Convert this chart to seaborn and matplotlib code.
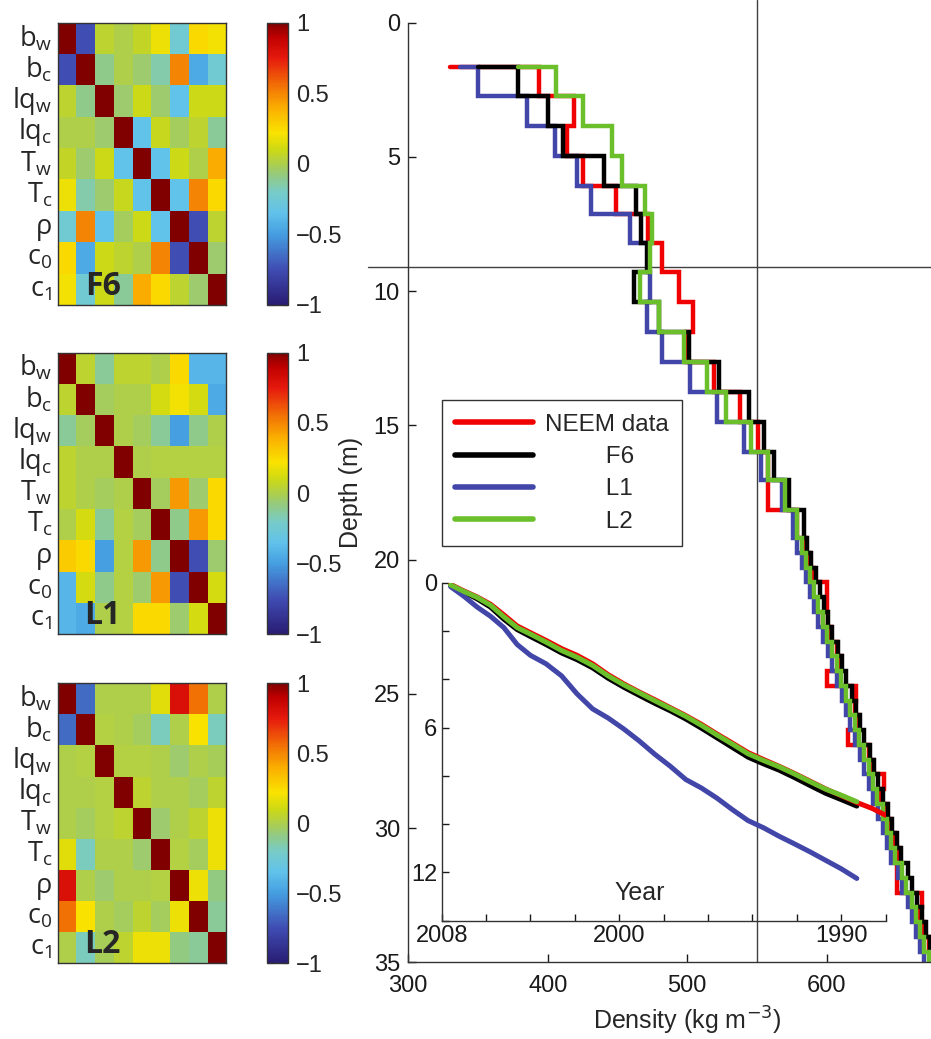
import numpy as np
import seaborn as sns
import matplotlib.pyplot as plt
from matplotlib.colors import LinearSegmentedColormap

sns.set_theme(style="white")
plt.rcParams["font.family"] = ["Liberation Sans", "DejaVu Sans"]
plt.rcParams["axes.edgecolor"] = "0.2"
plt.rcParams["axes.linewidth"] = 1.0

# ---------------- correlation matrices (left column) ----------------
params = [r"$\mathregular{b_w}$", r"$\mathregular{b_c}$", r"$\mathregular{lq_w}$",
          r"$\mathregular{lq_c}$", r"$\mathregular{T_w}$", r"$\mathregular{T_c}$",
          "ρ", r"$\mathregular{c_0}$", r"$\mathregular{c_1}$"]

corr_f6 = [
    [1.00, -0.75, 0.05, 0.00, 0.07, 0.18, -0.25, 0.25, 0.20],
    [-0.75, 1.00, -0.10, 0.00, -0.05, -0.15, 0.50, -0.45, -0.25],
    [0.05, -0.10, 1.00, -0.05, 0.10, -0.05, -0.35, 0.10, 0.10],
    [0.00, 0.00, -0.05, 1.00, -0.35, 0.08, -0.03, 0.05, -0.12],
    [0.07, -0.05, 0.10, -0.35, 1.00, -0.35, 0.10, 0.00, 0.40],
    [0.18, -0.15, -0.05, 0.08, -0.35, 1.00, -0.35, 0.50, 0.25],
    [-0.25, 0.50, -0.35, -0.03, 0.10, -0.35, 1.00, -0.75, 0.05],
    [0.25, -0.45, 0.10, 0.05, 0.00, 0.50, -0.75, 1.00, -0.05],
    [0.20, -0.25, 0.10, -0.12, 0.40, 0.25, 0.05, -0.05, 1.00],
]
corr_l1 = [
    [1.00, 0.05, -0.12, 0.05, 0.05, 0.00, 0.25, -0.40, -0.40],
    [0.05, 1.00, -0.03, 0.00, 0.00, 0.12, 0.20, 0.12, -0.45],
    [-0.12, -0.03, 1.00, 0.00, -0.03, -0.12, -0.50, -0.10, 0.00],
    [0.05, 0.00, 0.00, 1.00, 0.00, 0.02, 0.02, 0.02, 0.02],
    [0.05, 0.00, -0.03, 0.00, 1.00, -0.03, 0.45, -0.05, 0.25],
    [0.00, 0.12, -0.12, 0.02, -0.03, 1.00, -0.10, 0.45, 0.25],
    [0.30, 0.25, -0.50, 0.02, 0.45, -0.10, 1.00, -0.75, -0.05],
    [-0.40, 0.12, -0.10, 0.02, -0.05, 0.45, -0.75, 1.00, 0.12],
    [-0.40, -0.45, 0.00, 0.02, 0.25, 0.25, -0.05, 0.12, 1.00],
]
corr_l2 = [
    [1.00, -0.65, 0.00, 0.00, 0.00, 0.15, 0.80, 0.55, 0.00],
    [-0.65, 1.00, 0.02, 0.00, -0.03, -0.18, 0.00, 0.22, -0.18],
    [0.00, 0.02, 1.00, 0.02, 0.02, 0.00, -0.05, 0.00, -0.02],
    [0.00, 0.00, 0.02, 1.00, 0.05, 0.00, 0.00, -0.03, 0.05],
    [0.00, -0.03, 0.02, 0.05, 1.00, -0.05, 0.00, 0.05, 0.18],
    [0.15, -0.18, 0.00, 0.00, -0.05, 1.00, 0.02, -0.03, 0.18],
    [0.80, 0.00, -0.05, 0.00, 0.00, 0.02, 1.00, 0.18, -0.08],
    [0.55, 0.22, 0.00, -0.03, 0.05, -0.03, 0.18, 1.00, -0.12],
    [0.00, -0.18, -0.02, 0.05, 0.18, 0.18, -0.08, -0.12, 1.00],
]
panel_names = ["F6", "L1", "L2"]

# ---------------- density profiles (main panel) ----------------
layer_edges = [1.64, 2.73, 3.85, 4.96, 6.07, 7.13, 8.22, 9.27, 10.42, 11.51,
               12.63, 13.74, 14.86, 15.98, 17.03, 18.15, 19.20,
               19.75, 20.30, 20.85, 21.40, 21.95, 22.50, 23.05, 23.60, 24.15,
               24.70, 25.25, 25.80, 26.35, 26.90, 27.45, 28.00, 28.55, 29.10,
               29.65, 30.20, 30.75, 31.30, 31.85, 32.40, 32.95, 33.50, 34.05,
               34.60, 35.15, 35.70]

dens_neem = [394, 419, 414, 425, 449, 472, 482, 494, 504, 499, 519, 538, 551, 558, 558, 579,
             585, 588, 591, 600, 600, 597, 603, 607, 610, 600, 621, 620, 623, 615, 630,
             633, 641, 639, 643, 646, 649, 652, 650, 650, 668, 667, 670, 673, 676, 679]
dens_f6 = [379, 400, 411, 440, 463, 467, 471, 462, 480, 501, 523, 544, 555, 562, 573, 584,
           586, 589, 592, 595, 598, 601, 604, 608, 611, 614, 618, 621, 624, 627, 631,
           634, 637, 640, 644, 647, 650, 653, 658, 661, 665, 668, 671, 674, 677, 680]
dens_l1 = [350, 385, 405, 421, 431, 459, 472, 473, 471, 482, 502, 521, 541, 553, 568, 576,
           579, 582, 585, 588, 591, 594, 597, 601, 604, 607, 611, 614, 617, 620, 624,
           627, 630, 633, 637, 640, 643, 646, 651, 654, 658, 661, 664, 667, 670, 673]
dens_l2 = [406, 425, 446, 453, 470, 475, 473, 466, 480, 498, 514, 528, 546, 558, 570, 579,
           582, 585, 588, 591, 594, 597, 600, 604, 607, 610, 614, 617, 620, 623, 627,
           630, 633, 636, 640, 643, 646, 649, 654, 657, 661, 664, 667, 670, 673, 676]
dens_start = {"NEEM data": 330, "F6": 350, "L1": 337, "L2": 379}

# ---------------- inset: depth vs year ----------------
years = [2007.6, 2007.0, 2006.4, 2005.8, 2005.2, 2004.6, 2004.0, 2003.3, 2002.6, 2001.9,
         2001.2, 2000.5, 1999.8, 1999.1, 1998.4, 1997.7, 1997.0, 1996.3, 1995.6, 1994.9,
         1994.2, 1993.5, 1992.8, 1992.1, 1991.4, 1990.7, 1990.0, 1989.3]
years_neem = years + [1988.6, 1988.0]
yd_neem = [0.06, 0.33, 0.58, 0.88, 1.32, 1.78, 2.06, 2.38, 2.72, 3.00, 3.35, 3.80, 4.18, 4.52,
           4.84, 5.17, 5.50, 5.86, 6.26, 6.64, 7.03, 7.32, 7.60, 7.90, 8.22, 8.54, 8.82, 9.10,
           9.35, 9.63]
yd_f6 = [0.08, 0.37, 0.66, 1.00, 1.50, 1.93, 2.22, 2.55, 2.90, 3.18, 3.52, 3.95, 4.32, 4.66,
         4.99, 5.30, 5.64, 6.02, 6.42, 6.82, 7.22, 7.50, 7.76, 8.07, 8.40, 8.72, 8.98, 9.25]
yd_l1 = [0.15, 0.55, 1.00, 1.38, 1.85, 2.55, 3.00, 3.35, 3.85, 4.60, 5.22, 5.60, 6.05, 6.55,
         7.10, 7.60, 8.15, 8.50, 8.92, 9.40, 9.85, 10.15, 10.50, 10.82, 11.15, 11.50, 11.85, 12.25]
yd_l2 = [0.08, 0.35, 0.60, 0.92, 1.40, 1.85, 2.12, 2.45, 2.80, 3.08, 3.42, 3.85, 4.22, 4.55,
         4.88, 5.20, 5.53, 5.90, 6.30, 6.68, 7.08, 7.36, 7.62, 7.92, 8.24, 8.55, 8.80, 9.07]

colors = {"NEEM data": "#f00000", "F6": "#000000", "L1": "#4146a8", "L2": "#6abf2a"}

# colormap like the MATLAB one in the figure
anchors = [(-1.0, (0.16, 0.11, 0.45)), (-0.75, (0.25, 0.30, 0.70)), (-0.5, (0.27, 0.62, 0.88)),
           (-0.35, (0.38, 0.76, 0.92)), (-0.2, (0.47, 0.80, 0.78)), (-0.08, (0.58, 0.79, 0.50)),
           (0.0, (0.68, 0.81, 0.30)), (0.1, (0.80, 0.85, 0.08)), (0.22, (0.98, 0.89, 0.0)),
           (0.4, (0.98, 0.68, 0.0)), (0.55, (0.95, 0.45, 0.02)), (0.75, (0.90, 0.10, 0.05)),
           (0.9, (0.75, 0.0, 0.0)), (1.0, (0.50, 0.0, 0.0))]
cmap = LinearSegmentedColormap.from_list("corr", [((v + 1) / 2, c) for v, c in anchors])


def stair_xy(start, dens, edges):
    xs, ys = [start], [edges[0]]
    for i, d in enumerate(dens):
        xs += [d, d]
        ys += [edges[i], edges[i + 1]]
    return xs, ys


fig = plt.figure(figsize=(9.31, 10.39), dpi=100)

# ---- heatmaps ----
hm_boxes = [(0.062, 0.7065, 0.181, 0.2717), (0.062, 0.3895, 0.181, 0.2712),
            (0.062, 0.0728, 0.181, 0.2697)]
for mat, name, (l, b, w, h) in zip([corr_f6, corr_l1, corr_l2], panel_names, hm_boxes):
    hax = fig.add_axes([l, b, w, h])
    cax = fig.add_axes([0.2865, b, 0.0226, h])
    sns.heatmap(np.array(mat), ax=hax, cbar_ax=cax, cmap=cmap, vmin=-1, vmax=1,
                xticklabels=False, yticklabels=params)
    hax.set_xticks(np.arange(9) + 0.5)
    hax.set_xticklabels([])
    hax.tick_params(axis="y", labelsize=19.5, rotation=0, left=True, right=True,
                    direction="in", length=3, pad=4)
    hax.tick_params(axis="x", bottom=True, direction="in", length=3)
    for lab in hax.get_yticklabels():
        lab.set_family(["Open Sans", "DejaVu Sans"])
    for sp in hax.spines.values():
        sp.set_visible(True)
        sp.set_color("0.2")
        sp.set_linewidth(1.0)
    hax.text(2.4, 8.4, name, fontsize=23, fontweight="bold", ha="center", va="center",
             family=["Open Sans", "DejaVu Sans"])
    cb = hax.collections[0].colorbar
    cb.outline.set_linewidth(1.0)
    cb.outline.set_edgecolor("0.2")
    cb.set_ticks([-1, -0.5, 0, 0.5, 1])
    cb.set_ticklabels(["\u22121", "\u22120.5", "0", "0.5", "1"])
    cax.tick_params(labelsize=17, direction="in", length=4, width=0.8, left=True,
                    right=True, pad=6, colors="0.15")

# ---- main density panel ----
ax = fig.add_axes([0.4385, 0.0738, 0.5994, 0.9043])
series = [("NEEM data", dens_neem), ("L1", dens_l1), ("F6", dens_f6), ("L2", dens_l2)]
handles = {}
for name, dens in series:
    xs, ys = stair_xy(dens_start[name], dens, layer_edges)
    sns.lineplot(x=xs, y=ys, ax=ax, sort=False, estimator=None, color=colors[name],
                 linewidth=3.2, label=name)
    handles[name] = ax.lines[-1]
    ax.lines[-1].set_solid_joinstyle("miter")

ax.set_xlim(300, 700)
ax.set_ylim(35, 0)
ax.set_xticks([300, 400, 500, 600])
ax.set_yticks(range(0, 36, 5))
ax.spines["top"].set_visible(False)
ax.tick_params(axis="both", direction="in", length=6, width=1, labelsize=17,
               left=True, bottom=True, colors="0.1")
ax.tick_params(axis="x", pad=9)
ax.tick_params(axis="y", pad=6)
ax.set_xlabel("Density (kg m$^{-3}$)", fontsize=18, labelpad=6)
ax.set_ylabel("Depth (m)", fontsize=18, labelpad=8,
              family=["Liberation Sans Narrow", "Liberation Sans"])

# reference cross lines
ax.axvline(550, ymin=0, ymax=1.024, color="0.25", lw=1.0, clip_on=False, zorder=1)
ax.axhline(9.1, xmin=-0.072, xmax=1.0, color="0.25", lw=1.0, clip_on=False, zorder=1)

order = ["NEEM data", "F6", "L1", "L2"]
labels = ["NEEM data", "         F6", "         L1", "         L2"]
leg = ax.legend([handles[k] for k in order], labels, loc="upper left",
                bbox_to_anchor=(0.060, 0.598), frameon=True, fancybox=False,
                edgecolor="0.2", framealpha=1, fontsize=17.5, handlelength=3.2,
                labelspacing=0.42, borderpad=0.55, handletextpad=0.5, borderaxespad=0)
leg.get_frame().set_linewidth(1.0)
for ln in leg.get_lines():
    ln.set_linewidth(4)

# ---- inset: depth vs year ----
ax_in = fig.add_axes([0.4744, 0.1139, 0.4769, 0.325])
ax_in.patch.set_alpha(0)
inset_series = [("F6", years, yd_f6), ("NEEM data", years_neem, yd_neem),
                ("L1", years, yd_l1), ("L2", years, yd_l2)]
for name, yrs, dep in inset_series:
    sns.lineplot(x=yrs, y=dep, ax=ax_in, sort=False, estimator=None, color=colors[name],
                 linewidth=3.6, legend=False)
ax_in.set_xlim(2008, 1988)
ax_in.set_ylim(14, 0)
ax_in.set_xticks([2008, 2000, 1990])
ax_in.set_xticks(list(range(1988, 2009, 2)), minor=True)
ax_in.set_yticks([0, 6, 12])
ax_in.set_yticks(list(range(0, 15, 2)), minor=True)
ax_in.spines["top"].set_visible(False)
ax_in.spines["right"].set_visible(False)
ax_in.tick_params(which="both", direction="in", length=5, width=1, left=True, bottom=True,
                  colors="0.1")
ax_in.tick_params(which="major", labelsize=17, pad=3)
ax_in.set_xlabel("")
ax_in.set_ylabel("")
ax_in.text(0.447, 0.082, "Year", transform=ax_in.transAxes, fontsize=18,
           ha="center", va="center")

fig.savefig("out.png", dpi=100)
